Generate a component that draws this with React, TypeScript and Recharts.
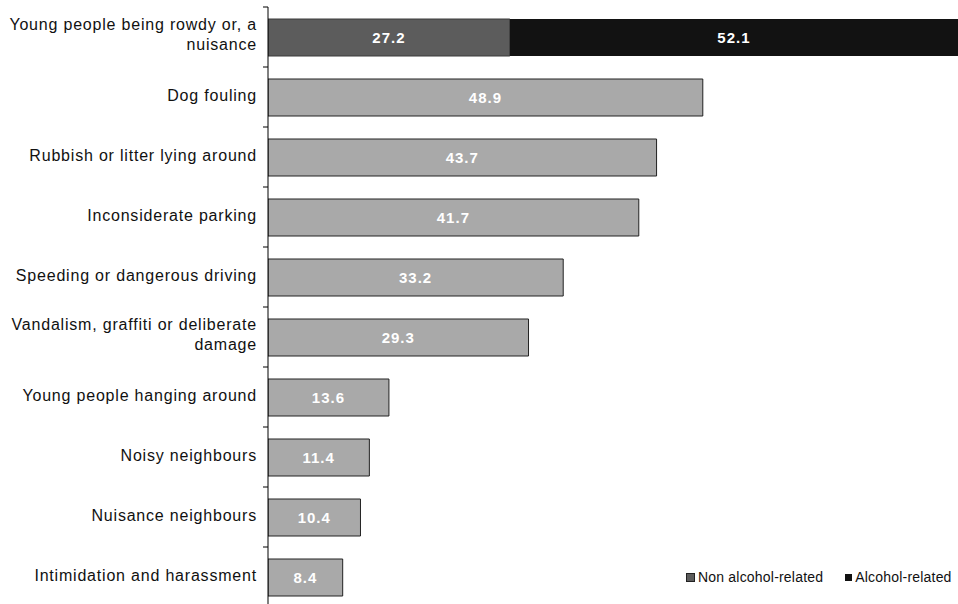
import { Bar, BarChart, Cell, LabelList, XAxis, YAxis } from "recharts";

const categories = [
  "Young people being rowdy or, a\nnuisance",
  "Dog fouling",
  "Rubbish or litter lying around",
  "Inconsiderate parking",
  "Speeding or dangerous driving",
  "Vandalism, graffiti or deliberate\ndamage",
  "Young people hanging around",
  "Noisy neighbours",
  "Nuisance neighbours",
  "Intimidation and harassment",
];
const nonAlcohol = [27.2, 48.9, 43.7, 41.7, 33.2, 29.3, 13.6, 11.4, 10.4, 8.4];
const alcohol = [52.1, null, null, null, null, null, null, null, null, null];
const seriesNames = ["Non alcohol-related", "Alcohol-related"];

const data = categories.map((name, i) => ({ name, nonAlcohol: nonAlcohol[i], alcohol: alcohol[i] }));

const FONT = "'Liberation Sans', Arial, sans-serif";
const AXIS_W = 268;

function CategoryTick(props: any) {
  const { x, y, payload } = props;
  const axisX = x + 11;
  const half = payload.offset ?? 30;
  const lines = String(payload.value).split("\n");
  const first = lines.length > 1 ? y - 7 : y + 4;
  return (
    <g>
      <line x1={axisX - 5} x2={axisX} y1={y - half} y2={y - half} stroke="#000" />
      <text
        x={x}
        y={first}
        textAnchor="end"
        fontSize={16}
        fill="#111"
        fontFamily={FONT}
        letterSpacing={0.8}
      >
        {lines.map((l, i) => (
          <tspan key={i} x={x} dy={i === 0 ? 0 : 20}>
            {l}
          </tspan>
        ))}
      </text>
    </g>
  );
}

const labelStyle = { fill: "#fff", fontSize: 15, fontWeight: "bold", fontFamily: FONT, letterSpacing: 1 };

export default function App() {
  return (
    <div style={{ position: "absolute", left: 0, top: 0, width: 958, height: 604, background: "#fff", fontFamily: FONT }}>
      <BarChart
        width={958}
        height={604}
        data={data}
        layout="vertical"
        margin={{ top: 7, right: 0, bottom: -3, left: 0 }}
        barSize={37}
      >
        <XAxis type="number" hide domain={[0, 77.6]} allowDataOverflow />
        <YAxis
          type="category"
          dataKey="name"
          width={AXIS_W}
          axisLine={{ stroke: "#000" }}
          tickLine={false}
          tickSize={5}
          tickMargin={6}
          interval={0}
          tick={<CategoryTick />}
        />
        <Bar dataKey="nonAlcohol" stackId="a" name={seriesNames[0]} isAnimationActive={false}>
          {data.map((d, i) => (
            <Cell
              key={i}
              fill={i === 0 ? "#5c5c5c" : "#a9a9a9"}
              stroke={i === 0 ? "#3a3a3a" : "#222"}
              strokeWidth={1}
            />
          ))}
          <LabelList dataKey="nonAlcohol" position="center" style={labelStyle} />
        </Bar>
        <Bar dataKey="alcohol" stackId="a" name={seriesNames[1]} fill="#121212" isAnimationActive={false}>
          <LabelList dataKey="alcohol" position="center" style={labelStyle} />
        </Bar>
      </BarChart>
      <div
        style={{
          position: "absolute",
          left: 686,
          top: 569,
          display: "flex",
          alignItems: "center",
          fontSize: 14,
          letterSpacing: 0.2,
          color: "#111",
          whiteSpace: "nowrap",
        }}
      >
        <span style={{ width: 7, height: 7, background: "#5c5c5c", border: "1px solid #222", marginRight: 3 }} />
        <span style={{ marginRight: 22 }}>{seriesNames[0]}</span>
        <span style={{ width: 7, height: 7, background: "#121212", marginRight: 3 }} />
        <span>{seriesNames[1]}</span>
      </div>
    </div>
  );
}
